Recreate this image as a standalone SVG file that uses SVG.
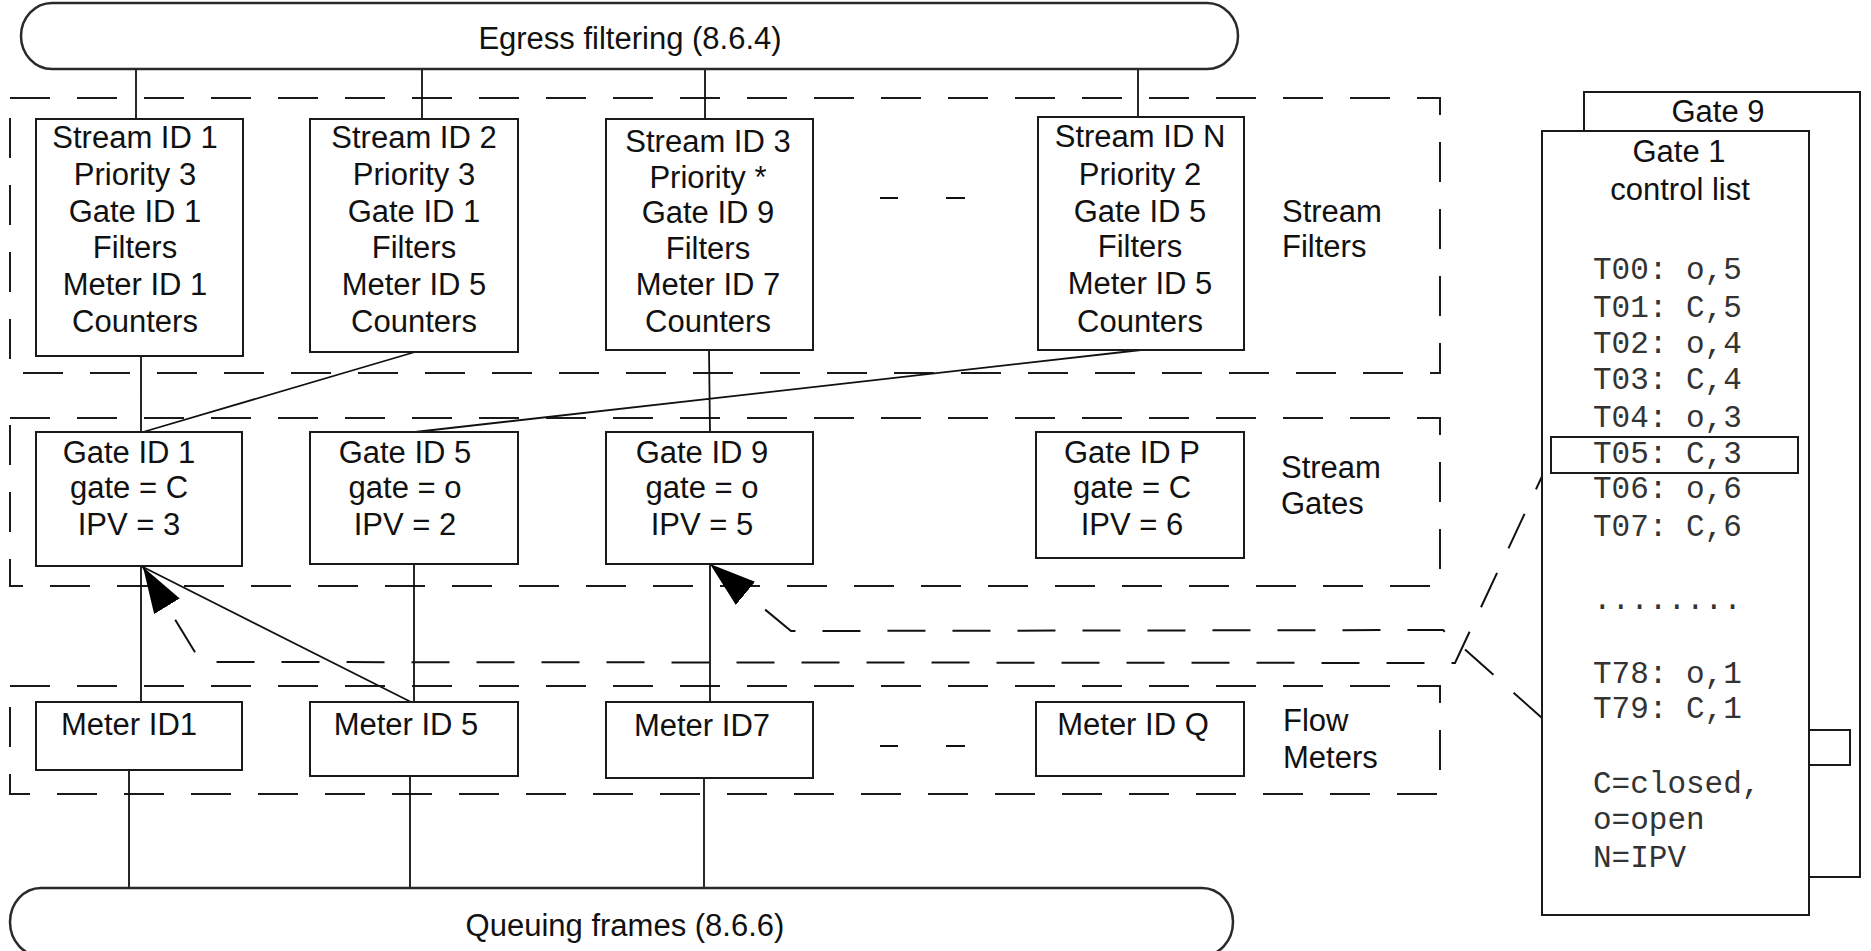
<svg xmlns="http://www.w3.org/2000/svg" width="1871" height="951" viewBox="0 0 1871 951">
<defs>
<style>
.bg{fill:#fff}
.box{fill:#fff;stroke:#1a1a1a;stroke-width:2}
.pill{fill:#fff;stroke:#2a2a2a;stroke-width:2.5}
.region{fill:none;stroke:#1a1a1a;stroke-width:2;stroke-dasharray:40 27}
.ln{fill:none;stroke:#111;stroke-width:1.8}
.dash{fill:none;stroke:#111;stroke-width:2;stroke-dasharray:38 27}
.t{font-family:"Liberation Sans",Arial,sans-serif;font-size:31px;fill:#111;text-anchor:middle}
.lbl{font-family:"Liberation Sans",Arial,sans-serif;font-size:31px;fill:#111}
.m{font-family:"Liberation Mono","Courier New",monospace;font-size:31px;fill:#333}
</style>
<marker id="ah" viewBox="0 0 46 30" refX="46" refY="15" markerWidth="46" markerHeight="30" markerUnits="userSpaceOnUse" orient="auto">
<path d="M0,0 L46,15 L0,30 z" fill="#000"/>
</marker>
</defs>
<rect class="bg" x="0" y="0" width="1871" height="951"/>

<g id="regions">
<rect class="region" x="10" y="98" width="1430" height="275"/>
<rect class="region" x="10" y="418" width="1430" height="168"/>
<rect class="region" x="10" y="686" width="1430" height="108"/>
<text class="lbl" x="1282" y="222">Stream</text>
<text class="lbl" x="1282" y="257">Filters</text>
<text class="lbl" x="1281" y="478">Stream</text>
<text class="lbl" x="1281" y="514">Gates</text>
<text class="lbl" x="1283" y="731">Flow</text>
<text class="lbl" x="1283" y="768">Meters</text>
<path class="ln" d="M880,198 H898 M946,198 H965 M880,746 H898 M946,746 H965" stroke-width="2"/>
</g>

<g id="connectors">
<path class="ln" d="M136,69 V119 M422,69 V119 M705,69 V119 M1138,69 V117"/>
<path class="ln" d="M141,356 V432 M415,352 L143,432 M709,350 L710,432 M1141,350 L415,432"/>
<path class="ln" d="M141,566 V702 M141,566 L411,702 M414,564 V702 M710,564 V702"/>
<path class="ln" d="M129,770 V888 M410,776 V895 M704,778 V888"/>
<path class="dash" d="M1552,455 L1455,663 L201,662 L143,567" marker-end="url(#ah)"/>
<path class="dash" d="M1542,718 L1443,630 L791,631 L710,564" marker-end="url(#ah)"/>
</g>

<g id="egress">
<rect class="pill" x="21" y="3" width="1217" height="66" rx="31" ry="33"/>
<text class="t" x="630" y="49">Egress filtering (8.6.4)</text>
</g>

<g id="stream1">
<rect class="box" x="36" y="119" width="207" height="237"/>
<text class="t" x="135" y="148">Stream ID 1</text>
<text class="t" x="135" y="185">Priority 3</text>
<text class="t" x="135" y="222">Gate ID 1</text>
<text class="t" x="135" y="258">Filters</text>
<text class="t" x="135" y="295">Meter ID 1</text>
<text class="t" x="135" y="332">Counters</text>
</g>
<g id="stream2">
<rect class="box" x="310" y="119" width="208" height="233"/>
<text class="t" x="414" y="148">Stream ID 2</text>
<text class="t" x="414" y="185">Priority 3</text>
<text class="t" x="414" y="222">Gate ID 1</text>
<text class="t" x="414" y="258">Filters</text>
<text class="t" x="414" y="295">Meter ID 5</text>
<text class="t" x="414" y="332">Counters</text>
</g>
<g id="stream3">
<rect class="box" x="606" y="119" width="207" height="231"/>
<text class="t" x="708" y="152">Stream ID 3</text>
<text class="t" x="708" y="188">Priority *</text>
<text class="t" x="708" y="223">Gate ID 9</text>
<text class="t" x="708" y="259">Filters</text>
<text class="t" x="708" y="295">Meter ID 7</text>
<text class="t" x="708" y="332">Counters</text>
</g>
<g id="streamN">
<rect class="box" x="1038" y="117" width="206" height="233"/>
<text class="t" x="1140" y="147">Stream ID N</text>
<text class="t" x="1140" y="185">Priority 2</text>
<text class="t" x="1140" y="222">Gate ID 5</text>
<text class="t" x="1140" y="257">Filters</text>
<text class="t" x="1140" y="294">Meter ID 5</text>
<text class="t" x="1140" y="332">Counters</text>
</g>

<g id="gate1">
<rect class="box" x="36" y="432" width="206" height="134"/>
<text class="t" x="129" y="463">Gate ID 1</text>
<text class="t" x="129" y="498">gate = C</text>
<text class="t" x="129" y="535">IPV = 3</text>
</g>
<g id="gate5">
<rect class="box" x="310" y="432" width="208" height="132"/>
<text class="t" x="405" y="463">Gate ID 5</text>
<text class="t" x="405" y="498">gate = o</text>
<text class="t" x="405" y="535">IPV = 2</text>
</g>
<g id="gate9">
<rect class="box" x="606" y="432" width="207" height="132"/>
<text class="t" x="702" y="463">Gate ID 9</text>
<text class="t" x="702" y="498">gate = o</text>
<text class="t" x="702" y="535">IPV = 5</text>
</g>
<g id="gateP">
<rect class="box" x="1036" y="432" width="208" height="126"/>
<text class="t" x="1132" y="463">Gate ID P</text>
<text class="t" x="1132" y="498">gate = C</text>
<text class="t" x="1132" y="535">IPV = 6</text>
</g>

<g id="meter1">
<rect class="box" x="36" y="702" width="206" height="68"/>
<text class="t" x="129" y="735">Meter ID1</text>
</g>
<g id="meter5">
<rect class="box" x="310" y="702" width="208" height="74"/>
<text class="t" x="406" y="735">Meter ID 5</text>
</g>
<g id="meter7">
<rect class="box" x="606" y="702" width="207" height="76"/>
<text class="t" x="702" y="736">Meter ID7</text>
</g>
<g id="meterQ">
<rect class="box" x="1036" y="702" width="208" height="74"/>
<text class="t" x="1133" y="735">Meter ID Q</text>
</g>

<g id="queuing">
<rect class="pill" x="10" y="888" width="1223" height="68" rx="31" ry="34"/>
<text class="t" x="625" y="936">Queuing frames (8.6.6)</text>
</g>

<g id="gate9-list">
<rect class="box" x="1584" y="92" width="276" height="785"/>
<text class="t" x="1718" y="122">Gate 9</text>
</g>
<g id="gate1-list">
<rect class="box" x="1542" y="131" width="267" height="784"/>
<rect class="box" x="1809" y="730" width="41" height="35"/>
<text class="t" x="1679" y="162">Gate 1</text>
<text class="t" x="1680" y="200">control list</text>
<text class="m" x="1593" y="279">T00: o,5</text>
<text class="m" x="1593" y="317">T01: C,5</text>
<text class="m" x="1593" y="353">T02: o,4</text>
<text class="m" x="1593" y="389">T03: C,4</text>
<text class="m" x="1593" y="427">T04: o,3</text>
<rect class="box" x="1551" y="437" width="247" height="36" fill="none" style="fill:none"/>
<text class="m" x="1593" y="463">T05: C,3</text>
<text class="m" x="1593" y="498">T06: o,6</text>
<text class="m" x="1593" y="536">T07: C,6</text>
<text class="m" x="1593" y="609">........</text>
<text class="m" x="1593" y="683">T78: o,1</text>
<text class="m" x="1593" y="718">T79: C,1</text>
<text class="m" x="1593" y="793">C=closed,</text>
<text class="m" x="1593" y="829">o=open</text>
<text class="m" x="1593" y="867">N=IPV</text>
</g>
</svg>
